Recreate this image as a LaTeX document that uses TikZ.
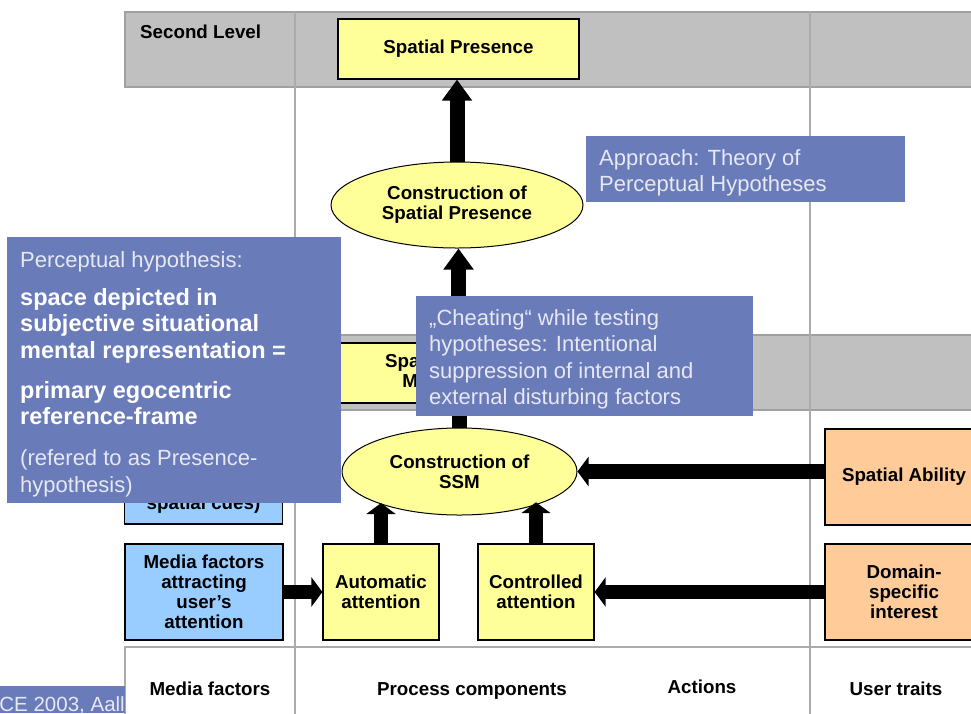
\documentclass[tikz,border=0pt]{standalone}
\usepackage{fontspec}
\setmainfont{Liberation Sans}
\usetikzlibrary{arrows.meta,shapes.geometric}
\definecolor{band}{HTML}{C0C0C0}
\definecolor{bandline}{HTML}{A0A0A0}
\definecolor{gridline}{HTML}{ABABAB}
\definecolor{procfill}{HTML}{FFFF99}
\definecolor{mediafill}{HTML}{99CCFF}
\definecolor{traitfill}{HTML}{FFCC99}
\definecolor{note}{HTML}{6A7BBA}
\definecolor{notetext}{HTML}{E6E8F2}
\newcommand{\hypline}[1]{\textcolor{white}{\bfseries\fontsize{23.5}{26.5}\selectfont #1}}

\begin{document}
\begin{tikzpicture}[x=1pt,y=-1pt,
  box/.style={draw=black,line width=1.2pt,align=center,inner sep=0pt,
    font=\bfseries\fontsize{18.75}{20}\selectfont},
  proc/.style={box,fill=procfill},
  mediabox/.style={box,fill=mediafill,minimum width=158pt,minimum height=96pt},
  traitbox/.style={box,fill=traitfill,minimum width=158pt,minimum height=96pt},
  constr/.style={ellipse,box,line width=1pt,fill=procfill},
  heading/.style={inner sep=0pt,font=\bfseries\fontsize{18.75}{20}\selectfont},
  note/.style={fill=note,inner sep=0pt,anchor=north west},
  notetxt/.style={anchor=north west,align=left,inner sep=0pt,text=notetext,
    font=\fontsize{22}{26.5}\selectfont},
  arrlong/.style={line width=15pt,-{Triangle[length=21pt,width=29pt]}},
  arrshort/.style={line width=14.5pt,-{Triangle[length=11pt,width=29pt]}}]
\useasboundingbox (0,0) rectangle (971,713);
\clip (0,0) rectangle (971,713);
\fill[white] (0,0) rectangle (971,713);
\filldraw[fill=band,draw=bandline,line width=1.2pt] (125,12) rectangle (990,87);
\filldraw[fill=band,draw=bandline,line width=1.2pt] (125,335) rectangle (990,410);
\draw[gridline,line width=1.2pt] (125,720) -- (125,647) -- (990,647);
\draw[gridline,line width=1.5pt] (295,12) -- (295,720) (810,12) -- (810,720);

\node (second) [heading,anchor=base west] at (140,38) {Second Level};
\node (mfcol) [heading,anchor=base] at (210,695) {Media factors};
\node (pccol) [heading,anchor=base] at (472,695) {Process components};
\node (accol) [heading,anchor=base] at (702,693) {Actions};
\node (utcol) [heading,anchor=base] at (896,695) {User traits};

\node (sp) [proc,minimum width=241pt,minimum height=60pt] at (458.5,49) {Spatial Presence};
\node (cosp) [constr,minimum width=252pt,minimum height=86pt] at (457,205) {Construction of\\Spatial Presence};
\node (ssm) [proc,minimum width=241pt,minimum height=60pt] at (458.5,373) {Spatial Situation\\Model (SSM)};
\node (cossm) [constr,minimum width=235pt,minimum height=87pt] at (459.5,471.5) {Construction of\\SSM};
\node (cues) [mediabox] at (203.5,476) {};
\node (cuestext) [heading,anchor=base] at (203.5,509) {spatial cues)};
\node (auto) [proc,minimum width=116pt,minimum height=96pt] at (381,592) {Automatic\\attention};
\node (ctrl) [proc,minimum width=116pt,minimum height=96pt] at (536,592) {Controlled\\attention};
\node (attract) [mediabox] at (204,592) {Media factors\\attracting\\user’s\\attention};
\node (ability) [traitbox] at (904,477) {Spatial Ability};
\node (interest) [traitbox] at (904,592) {Domain-\\specific\\interest};

\draw[arrlong] (cosp.north) -- (cosp.north |- sp.south);
\draw[arrlong] (ssm.north) -- (ssm.north |- cosp.south);
\draw[arrshort] (cossm.north) -- (cossm.north |- ssm.south);
\draw[arrshort] (auto.north) -- (auto.north |- cossm.201);
\draw[arrshort] (ctrl.north) -- (ctrl.north |- cossm.-20);
\draw[arrshort] (attract.east) -- (auto.west);
\draw[arrshort] (ability.west |- cossm.east) -- (cossm.east);
\draw[arrshort] (interest.west) -- (ctrl.east);

\node (approach) [note,minimum width=319pt,minimum height=66pt] at (586,136) {};
\node (approachtext) [notetxt] at (599,147) {\rule{0pt}{18pt}Approach: Theory of\\Perceptual Hypotheses};
\node (cheat) [note,minimum width=337pt,minimum height=120pt] at (416,296) {};
\node (cheattext) [notetxt] at (429,305) {\rule{0pt}{20pt}„Cheating“ while testing\\hypotheses: Intentional\\suppression of internal and\\external disturbing factors};
\node (hyp) [note,minimum width=334pt,minimum height=266pt] at (7,237) {};
\node (hyptext) [notetxt] at (20,247) {\rule{0pt}{20pt}Perceptual hypothesis:\\[11.5pt]
  \hypline{space depicted in}\\
  \hypline{subjective situational}\\
  \hypline{mental representation =}\\[13.5pt]
  \hypline{primary egocentric}\\
  \hypline{reference-frame}\\[14.5pt]
  (refered to as Presence-\\
  hypothesis)};

\fill[note] (0,686) rectangle (125,713);
\node (footer) [anchor=base east,inner sep=0pt,text=notetext,font=\fontsize{20.5}{24}\selectfont] at (125,711) {CE 2003, Aall};
\end{tikzpicture}
\end{document}
